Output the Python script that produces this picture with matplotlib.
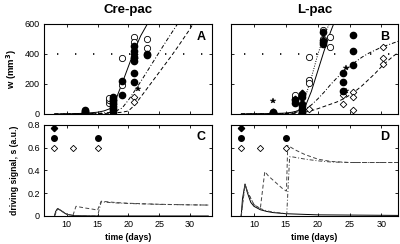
import matplotlib
matplotlib.use('Agg')
import matplotlib.pyplot as plt

plt.rcParams['font.family'] = ['Liberation Sans', 'DejaVu Sans']

# ---- panel A (Cre-pac), tumour volume w (mm^3) vs day ----
a_fc_day = [13, 13, 13, 13, 17.5, 17.5, 17.5, 17.5, 17.5, 17.5, 17.5, 17.5, 19, 19, 21, 21, 21, 21, 21, 21, 23, 23]
a_fc_w = [3, 10, 18, 26, 10, 25, 40, 55, 70, 85, 100, 115, 127, 220, 450, 420, 380, 355, 270, 215, 400, 390]
a_oc_day = [16.9, 16.9, 16.9, 19, 19, 21, 21, 23, 23]
a_oc_w = [75, 90, 105, 373, 190, 510, 480, 500, 440]
a_od_day = [17.5, 17.5, 17.5, 21, 21]
a_od_w = [20, 35, 50, 115, 80]
a_fd_day = [13, 17.5, 17.5, 21, 21]
a_fd_w = [15, 65, 95, 400, 370]
a_st_day = [21.5]
a_st_w = [165]

a_solid_day = [8, 11, 13, 15, 16, 17, 18, 19, 20, 21, 22, 23.1]
a_solid_w = [0, 2, 5, 12, 20, 35, 100, 205, 315, 425, 520, 600]
a_dashdot_day = [8, 12, 15, 17, 18, 19, 20, 21, 22, 23, 24, 25, 26, 27, 28]
a_dashdot_w = [0, 1, 4, 10, 20, 40, 92, 152, 215, 280, 345, 410, 475, 538, 600]
a_dashed_day = [8, 12, 15, 17, 18, 19, 20, 21, 22, 23, 24, 25, 26, 27, 28, 29, 30, 30.5]
a_dashed_w = [0, 1, 2, 5, 8, 12, 20, 58, 112, 167, 222, 277, 332, 387, 445, 505, 565, 600]

# ---- panel B (L-pac) ----
b_fc_day = [13, 13, 16.4, 16.4, 17.5, 17.5, 17.5, 17.5, 17.5, 17.5, 20.8, 20.8, 20.8, 23.9, 23.9, 23.9, 25.5, 25.5, 25.5]
b_fc_w = [4, 10, 75, 92, 5, 20, 35, 50, 65, 110, 545, 480, 465, 275, 210, 155, 525, 420, 325]
b_oc_day = [16.4, 16.4, 18.7, 18.7, 18.7, 20.8, 20.8, 22, 22]
b_oc_w = [105, 125, 380, 225, 205, 560, 500, 515, 445]
b_od_day = [17.5, 18.7, 23.9, 23.9, 25.5, 25.5, 25.5, 30.2, 30.2, 30.2]
b_od_w = [25, 30, 125, 65, 145, 110, 25, 445, 375, 335]
b_fd_day = [13, 16.4, 17.5, 17.5, 20.8]
b_fd_w = [15, 100, 140, 125, 495]
b_st_day = [13, 24.5, 24.5]
b_st_w = [85, 305, 155]

b_dotted_day = [8, 14, 16, 17, 18, 19, 20, 21, 21.8]
b_dotted_w = [0, 2, 8, 25, 105, 240, 395, 520, 600]
b_solid_day = [8, 12, 15, 16, 17, 18, 19, 20, 21, 22, 22.5]
b_solid_w = [0, 2, 6, 12, 22, 45, 150, 285, 420, 545, 600]
b_dashdot_day = [8, 14, 16, 17, 18, 19, 20, 21, 22, 23, 24, 25, 26, 27, 28, 29, 30, 31, 32, 33]
b_dashdot_w = [0, 1, 5, 15, 30, 60, 100, 145, 195, 240, 280, 315, 350, 380, 405, 425, 445, 460, 475, 490]
b_dashed_day = [8, 15, 17, 18, 19, 20, 21, 22, 23, 24, 25, 26, 27, 28, 29, 30, 31, 32, 33]
b_dashed_w = [0, 2, 5, 12, 22, 35, 50, 65, 80, 100, 125, 155, 190, 230, 270, 315, 355, 390, 420]

# ---- injection schedule markers (panels C, D) ----
inj_fd_day = [8]
inj_fd_s = [0.77]
inj_fc_day = [8, 15]
inj_fc_s = [0.685, 0.685]
inj_od_day = [8, 11, 15]
inj_od_s = [0.6, 0.6, 0.6]

# ---- panel C driving signal ----
c_solid_day = [8, 8.2, 8.5, 9, 9.5, 10, 11, 12, 15, 20, 33]
c_solid_s = [0, 0.04, 0.065, 0.05, 0.03, 0.015, 0.005, 0.002, 0, 0, 0]
c_dashed_day = [8, 8.5, 9, 10, 11, 11, 11.5, 12, 13, 14, 15, 15, 15.6, 16, 18, 20, 25, 30, 33]
c_dashed_s = [0, 0.065, 0.05, 0.015, 0.005, 0.005, 0.085, 0.08, 0.07, 0.062, 0.052, 0.052, 0.13, 0.128, 0.118, 0.112, 0.103, 0.098, 0.096]
c_dashdot_day = [8, 8.5, 9, 10, 11, 12, 15, 15, 15.6, 16, 18, 20, 25, 30, 33]
c_dashdot_s = [0, 0.065, 0.05, 0.015, 0.005, 0.002, 0, 0, 0.125, 0.122, 0.115, 0.11, 0.102, 0.098, 0.096]

# ---- panel D driving signal ----
d_solid_day = [8, 8.2, 8.6, 9, 9.5, 10, 11, 12, 13, 15, 20, 33]
d_solid_s = [0, 0.15, 0.28, 0.2, 0.12, 0.085, 0.055, 0.04, 0.03, 0.02, 0.01, 0.005]
d_dashed_day = [8, 8.6, 9, 10, 11, 11, 11.7, 12.3, 13.5, 14.5, 15.05, 15.1, 15.3, 16.5, 18, 20, 22, 25, 30, 33]
d_dashed_s = [0, 0.28, 0.21, 0.1, 0.065, 0.065, 0.39, 0.35, 0.29, 0.24, 0.22, 0.22, 0.62, 0.58, 0.54, 0.5, 0.48, 0.47, 0.47, 0.47]
d_dashdot_day = [8, 8.6, 9, 10, 11, 12, 13, 15.1, 15.15, 15.6, 16, 18, 20, 22, 25, 30, 33]
d_dashdot_s = [0, 0.28, 0.21, 0.1, 0.065, 0.045, 0.035, 0.02, 0.02, 0.52, 0.52, 0.5, 0.485, 0.475, 0.47, 0.47, 0.47]

threshold_w = 400

fig = plt.figure(figsize=(4.0, 2.44), dpi=100)
axA = fig.add_axes([0.11, 0.5328, 0.42, 0.369])
axB = fig.add_axes([0.5775, 0.5328, 0.4175, 0.369])
axC = fig.add_axes([0.11, 0.1148, 0.42, 0.373])
axD = fig.add_axes([0.5775, 0.1148, 0.4175, 0.373])

lw = 0.7
dash = (0, (4, 2.5))
dashdot = (0, (4, 2, 1, 2))


def style(ax, xlim):
    ax.set_xlim(*xlim)
    ax.set_xticks([10, 15, 20, 25, 30])
    ax.tick_params(direction='in', length=2.5, width=0.6, top=True, right=True,
                   labelsize=6.5, pad=3)
    for s in ax.spines.values():
        s.set_linewidth(0.8)


def points(ax, fc, oc, od, fd, st, ms=4.5):
    ax.plot(*oc, 'o', ms=ms, mfc='white', mec='black', mew=0.6, ls='none')
    ax.plot(*od, 'D', ms=ms * 0.75, mfc='white', mec='black', mew=0.6, ls='none')
    ax.plot(*fc, 'o', ms=ms, mfc='black', mec='black', ls='none')
    ax.plot(*fd, 'D', ms=ms * 0.75, mfc='black', mec='black', ls='none')
    ax.plot(*st, '*', ms=ms * 0.9, mfc='black', mec='black', mew=0.3, ls='none')


# A
axA.axhline(threshold_w, color='black', lw=1.2, ls=(3, (0.8, 10)))
axA.plot(a_solid_day, a_solid_w, color='black', lw=lw)
axA.plot(a_dashdot_day, a_dashdot_w, color='black', lw=lw, ls=dashdot)
axA.plot(a_dashed_day, a_dashed_w, color='black', lw=lw, ls=dash)
points(axA, (a_fc_day, a_fc_w), (a_oc_day, a_oc_w), (a_od_day, a_od_w),
       (a_fd_day, a_fd_w), (a_st_day, a_st_w))
style(axA, (6.3, 33.6))
axA.set_ylim(0, 600)
axA.set_yticks([0, 200, 400, 600])
axA.set_xticklabels([])
axA.set_ylabel('w (mm$^\\mathbf{3}$)', fontsize=6.8, fontweight='bold')
axA.yaxis.set_label_coords(-0.15, 0.5)
axA.set_title('Cre-pac', fontsize=9.5, fontweight='bold', pad=8)
axA.text(0.96, 0.85, 'A', transform=axA.transAxes, ha='right', va='center',
         fontsize=9, fontweight='bold')

# B
axB.axhline(threshold_w, color='black', lw=1.2, ls=(3, (0.8, 10)))
axB.plot(b_dotted_day, b_dotted_w, color='black', lw=lw, ls=(0, (1, 1.5)))
axB.plot(b_solid_day, b_solid_w, color='black', lw=lw)
axB.plot(b_dashdot_day, b_dashdot_w, color='black', lw=lw, ls=dashdot)
axB.plot(b_dashed_day, b_dashed_w, color='black', lw=lw, ls=dash)
points(axB, (b_fc_day, b_fc_w), (b_oc_day, b_oc_w), (b_od_day, b_od_w),
       (b_fd_day, b_fd_w), (b_st_day, b_st_w))
style(axB, (6.4, 32.6))
axB.set_ylim(0, 600)
axB.set_yticks([0, 200, 400, 600])
axB.set_xticklabels([])
axB.set_yticklabels([])
axB.set_title('L-pac', fontsize=9.5, fontweight='bold', pad=8)
axB.text(0.95, 0.85, 'B', transform=axB.transAxes, ha='right', va='center',
         fontsize=9, fontweight='bold')

# C, D
for ax, sol, dsh, dd, xl, lab in [
        (axC, (c_solid_day, c_solid_s), (c_dashed_day, c_dashed_s),
         (c_dashdot_day, c_dashdot_s), (6.3, 33.6), 'C'),
        (axD, (d_solid_day, d_solid_s), (d_dashed_day, d_dashed_s),
         (d_dashdot_day, d_dashdot_s), (6.4, 32.6), 'D')]:
    ax.plot(*sol, color='black', lw=lw)
    ax.plot(*dsh, color='#444444', lw=lw, ls=dash)
    ax.plot(*dd, color='#444444', lw=lw, ls=dashdot)
    ax.plot(inj_fd_day, inj_fd_s, 'D', ms=3.2, mfc='black', mec='black', ls='none')
    ax.plot(inj_fc_day, inj_fc_s, 'o', ms=4, mfc='black', mec='black', ls='none')
    ax.plot(inj_od_day, inj_od_s, 'D', ms=3.2, mfc='white', mec='black', mew=0.6, ls='none')
    style(ax, xl)
    ax.set_ylim(0, 0.8)
    ax.set_yticks([0, 0.2, 0.4, 0.6, 0.8])
    ax.set_yticklabels(['0', '0.2', '0.4', '0.6', '0.8'])
    ax.set_xlabel('time (days)', fontsize=6.3, fontweight='bold', labelpad=2.5)
    ax.text(0.96 if lab == 'C' else 0.95, 0.87, lab, transform=ax.transAxes,
            ha='right', va='center', fontsize=9, fontweight='bold')

axD.set_yticklabels([])
axC.set_ylabel('driving signal, s (a.u.)', fontsize=6.2, fontweight='bold')
axC.yaxis.set_label_coords(-0.15, 0.5)

fig.savefig('out.png', dpi=100)
